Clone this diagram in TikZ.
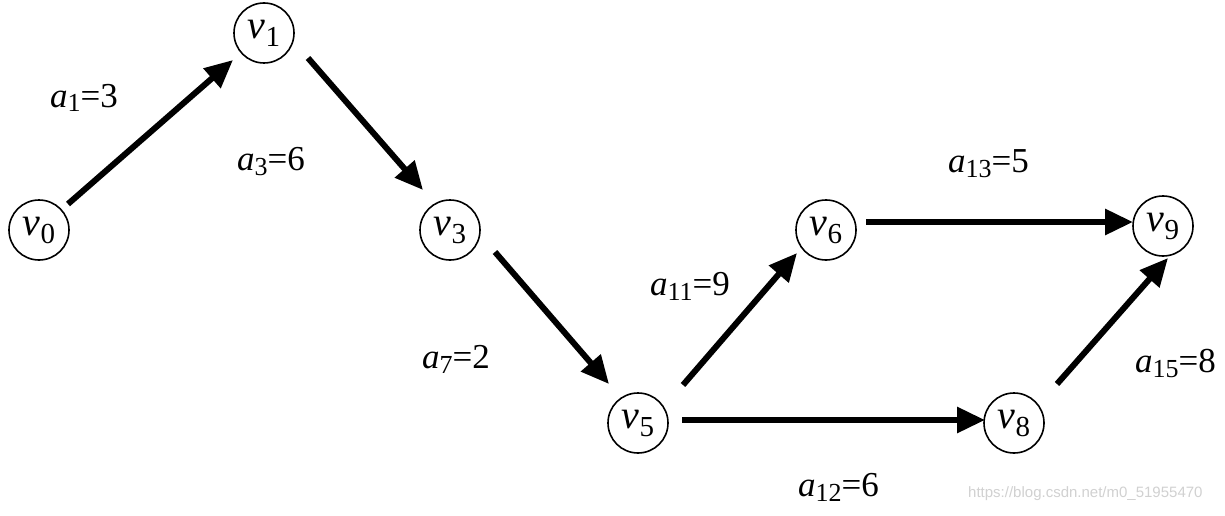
\documentclass[tikz,border=0pt]{standalone}
\usepackage{fontspec}
\setmainfont{Liberation Serif}
\newfontfamily\wmfont{Liberation Sans}
\usetikzlibrary{arrows.meta}
\newcommand\vlab[1]{\fontsize{40}{40}\selectfont\textit{v}\raisebox{-8pt}{\fontsize{29}{29}\selectfont #1}}
\newcommand\alab[2]{\fontsize{35}{35}\selectfont\textit{a}\raisebox{-5pt}{\fontsize{26}{26}\selectfont #1}=#2}
\begin{document}
\begin{tikzpicture}[x=1pt,y=-1pt,
  vtx/.style={circle,draw,line width=1.6pt,minimum size=60pt,inner sep=0pt},
  arr/.style={line width=6pt,-{Triangle[length=28pt,width=25pt]}},
  wlab/.style={anchor=base west,inner sep=0pt}]
\useasboundingbox[fill=white] (0,0) rectangle (1225,516);
\node[vtx] (v0) at (39,230) {\vlab{0}};
\node[vtx] (v1) at (264,33) {\vlab{1}};
\node[vtx] (v3) at (450,230) {\vlab{3}};
\node[vtx] (v5) at (638,423) {\vlab{5}};
\node[vtx] (v6) at (826,230) {\vlab{6}};
\node[vtx] (v8) at (1014,423) {\vlab{8}};
\node[vtx] (v9) at (1163,226) {\vlab{9}};
\draw[arr] ([shift={(29,-26)}]v0.center) -- ([shift={(-31,27)}]v1.center);
\draw[arr] ([shift={(44,25)}]v1.center) -- ([shift={(-27,-40)}]v3.center);
\draw[arr] ([shift={(45,22)}]v3.center) -- ([shift={(-29,-39)}]v5.center);
\draw[arr] ([shift={(45,-38)}]v5.center) -- ([shift={(-29,23)}]v6.center);
\draw[arr] ([shift={(44,-3)}]v5.center) -- ([shift={(-29,-3)}]v8.center);
\draw[arr] ([shift={(40,-8)}]v6.center) -- ([shift={(-30,-4)}]v9.center);
\draw[arr] ([shift={(43,-39)}]v8.center) -- ([shift={(5,32)}]v9.center);
\node[wlab] (l1) at (50,107) {\alab{1}{3}};
\node[wlab] (l3) at (237,170) {\alab{3}{6}};
\node[wlab] (l7) at (422,368) {\alab{7}{2}};
\node[wlab] (l11) at (650,295) {\alab{11}{9}};
\node[wlab] (l12) at (798,496) {\alab{12}{6}};
\node[wlab] (l13) at (948,172) {\alab{13}{5}};
\node[wlab] (l15) at (1135,372) {\alab{15}{8}};
\node[wlab,text=black!18] (wm) at (968,497) {\wmfont\fontsize{15}{15}\selectfont https://blog.csdn.net/m0\_51955470};
\end{tikzpicture}
\end{document}
